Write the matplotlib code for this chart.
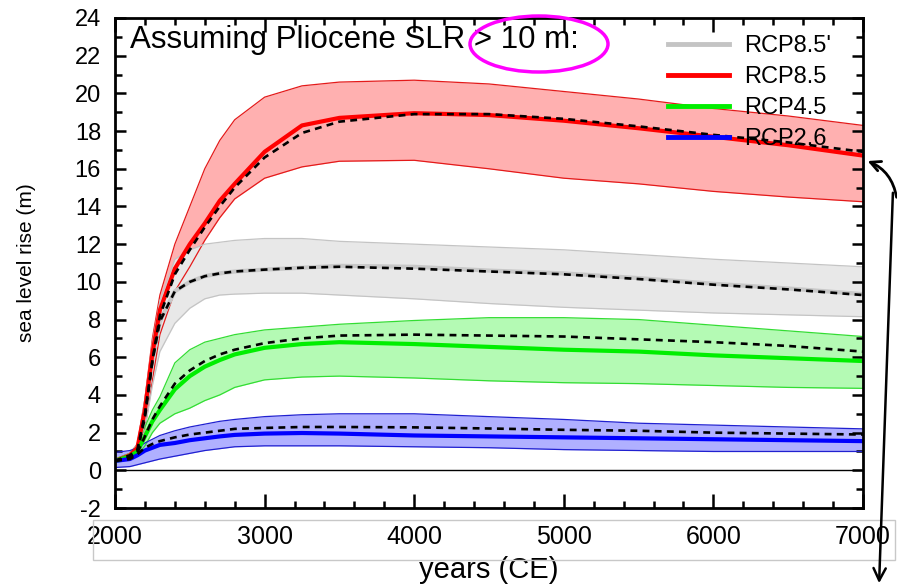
import numpy as np
import matplotlib
matplotlib.use('Agg')
import matplotlib.pyplot as plt
from matplotlib.lines import Line2D
from matplotlib.patches import Ellipse, Rectangle, FancyArrowPatch

plt.rcParams['font.family'] = ['Liberation Sans', 'DejaVu Sans']
plt.rcParams['axes.unicode_minus'] = False

years = [2000, 2100, 2150, 2200, 2250, 2300, 2400, 2500, 2600, 2700, 2800,
         3000, 3250, 3500, 4000, 4500, 5000, 5500, 6000, 6500, 7000]

# RCP8.5 (red)
r85_lo = [0.4, 0.7, 0.9, 2.2, 4.8, 7.2, 9.5, 10.8, 12.2, 13.4, 14.4,
          15.5, 16.1, 16.4, 16.45, 16.0, 15.5, 15.2, 14.8, 14.5, 14.25]
r85_hi = [0.6, 0.9, 1.4, 3.8, 7.0, 9.3, 12.0, 14.0, 16.0, 17.5, 18.6,
          19.8, 20.4, 20.6, 20.7, 20.5, 20.1, 19.7, 19.2, 18.8, 18.3]
r85_med = [0.5, 0.8, 1.2, 3.2, 6.2, 8.5, 10.7, 12.0, 13.1, 14.3, 15.2,
           16.9, 18.3, 18.7, 18.95, 18.85, 18.55, 18.15, 17.7, 17.25, 16.7]
r85_alt = [0.5, 0.7, 1.0, 2.8, 5.8, 8.2, 10.4, 11.7, 12.9, 14.0, 15.0,
           16.6, 17.9, 18.5, 18.9, 18.9, 18.65, 18.25, 17.8, 17.4, 16.9]

# RCP8.5' (grey)
r85p_lo = [0.4, 0.7, 0.9, 2.2, 4.5, 6.3, 7.8, 8.6, 9.1, 9.3, 9.35,
           9.4, 9.4, 9.3, 9.1, 8.85, 8.65, 8.5, 8.35, 8.25, 8.15]
r85p_hi = [0.6, 0.9, 1.4, 3.8, 6.8, 9.0, 11.2, 11.7, 12.0, 12.1, 12.2,
           12.3, 12.3, 12.15, 12.0, 11.85, 11.7, 11.45, 11.2, 11.0, 10.8]
r85p_med = [0.5, 0.8, 1.1, 3.0, 5.8, 7.9, 9.5, 10.0, 10.3, 10.45, 10.55,
            10.65, 10.75, 10.85, 10.8, 10.6, 10.45, 10.2, 9.9, 9.65, 9.35]
r85p_alt = [0.5, 0.8, 1.1, 3.0, 5.8, 7.9, 9.5, 10.0, 10.3, 10.45, 10.55,
            10.65, 10.75, 10.8, 10.7, 10.55, 10.4, 10.15, 9.85, 9.6, 9.3]

# RCP4.5 (green)
r45_lo = [0.4, 0.6, 0.8, 1.3, 2.0, 2.5, 3.0, 3.3, 3.7, 4.0, 4.4,
          4.8, 4.95, 5.0, 4.9, 4.75, 4.65, 4.6, 4.5, 4.4, 4.35]
r45_hi = [0.6, 0.9, 1.3, 2.3, 3.2, 3.9, 5.7, 6.4, 6.8, 7.0, 7.2,
          7.45, 7.6, 7.75, 7.95, 8.1, 8.1, 8.0, 7.7, 7.4, 7.1]
r45_med = [0.5, 0.75, 1.0, 1.8, 2.6, 3.2, 4.3, 5.0, 5.5, 5.85, 6.15,
           6.5, 6.7, 6.8, 6.7, 6.55, 6.4, 6.3, 6.1, 5.95, 5.8]
r45_alt = [0.5, 0.7, 0.95, 1.8, 2.7, 3.4, 4.6, 5.3, 5.8, 6.15, 6.4,
           6.75, 7.0, 7.15, 7.2, 7.15, 7.1, 6.95, 6.8, 6.6, 6.3]

# RCP2.6 (blue)
r26_lo = [0.15, 0.2, 0.3, 0.4, 0.5, 0.6, 0.75, 0.9, 1.05, 1.15, 1.25,
          1.3, 1.3, 1.3, 1.25, 1.2, 1.1, 1.05, 1.0, 1.0, 1.0]
r26_hi = [0.95, 1.05, 1.2, 1.45, 1.65, 1.85, 2.1, 2.3, 2.45, 2.6, 2.7,
          2.85, 2.95, 3.0, 3.0, 2.85, 2.7, 2.5, 2.4, 2.3, 2.2]
r26_med = [0.5, 0.6, 0.8, 1.05, 1.2, 1.35, 1.45, 1.6, 1.7, 1.8, 1.88,
           1.95, 1.98, 1.95, 1.85, 1.8, 1.75, 1.7, 1.65, 1.6, 1.55]
r26_alt = [0.5, 0.6, 0.85, 1.2, 1.4, 1.55, 1.75, 1.9, 2.0, 2.1, 2.2,
           2.25, 2.3, 2.3, 2.28, 2.22, 2.15, 2.1, 2.0, 1.95, 1.9]

labels = ["RCP8.5'", 'RCP8.5', 'RCP4.5', 'RCP2.6']

fig = plt.figure(figsize=(8.97, 5.88), dpi=100)
ax = fig.add_axes([0.1282, 0.136, 0.8339, 0.8334])

# bands: (lo, hi, fill, edge)
bands = [(r85_lo, r85_hi, '#ffb0b0', '#e41a1a'),
         (r85p_lo, r85p_hi, '#e8e8e8', '#c4c4c4'),
         (r45_lo, r45_hi, '#b4fab4', '#33dd33'),
         (r26_lo, r26_hi, '#b0b0ff', '#2020d0')]
for lo, hi, fc, ec in bands:
    ax.fill_between(years, lo, hi, color=fc, lw=0)
    ax.plot(years, lo, color=ec, lw=0.9)
    ax.plot(years, hi, color=ec, lw=0.9)

ax.plot(years, r85p_med, color='#c8c8c8', lw=3)
ax.plot(years, r85_med, color='#ff0000', lw=3)
ax.plot(years, r45_med, color='#00ee00', lw=3)
ax.plot(years, r26_med, color='#0000ff', lw=3)

for alt in (r85_alt, r85p_alt, r45_alt, r26_alt):
    ax.plot(years, alt, color='black', lw=1.9, dashes=(2.6, 2.0))

ax.axhline(0, color='black', lw=1)

ax.set_xlim(2000, 7000)
ax.set_ylim(-2, 24)
ax.set_xticks([2000, 3000, 4000, 5000, 6000, 7000])
ax.set_xticks(np.arange(2000, 7001, 200), minor=True)
ax.set_yticks(np.arange(-2, 25, 2))
ax.set_yticks(np.arange(-2, 25, 1), minor=True)
ax.tick_params(which='both', direction='in', top=True, right=True, width=1.8)
ax.tick_params(which='major', length=8)
ax.tick_params(which='minor', length=5)
ax.tick_params(axis='x', which='major', length=10)
ax.tick_params(axis='y', labelsize=17, pad=10)
ax.tick_params(axis='x', labelsize=18, pad=12)
for s in ax.spines.values():
    s.set_linewidth(2)

ax.set_ylabel('sea level rise (m)', fontsize=15, labelpad=28)
ax.set_xlabel('years (CE)', fontsize=21, labelpad=5)

ax.text(0.02, 0.955, 'Assuming Pliocene SLR > 10 m:', transform=ax.transAxes,
        fontsize=22.5, va='center', ha='left')

handles = [Line2D([], [], color=c, lw=3.5) for c in ('#c4c4c4', '#ff0000', '#00ee00', '#0000ff')]
ax.legend(handles, labels, loc='upper left', bbox_to_anchor=(0.739, 0.965),
          frameon=False, fontsize=17, handlelength=2.6, handletextpad=0.65,
          labelspacing=0.38, borderpad=0, borderaxespad=0)

# slide annotations drawn over the chart
fig.patches.append(Ellipse((539 / 897, 1 - 44 / 588), 138 / 897, 56 / 588,
                           transform=fig.transFigure, fill=False,
                           edgecolor='#ff00ff', lw=2.5))
fig.patches.append(Rectangle((93 / 897, 1 - 560 / 588), 802 / 897, 40 / 588,
                             transform=fig.transFigure, fill=False,
                             edgecolor='#c8c8c8', lw=1))
fig.patches.append(FancyArrowPatch((897 / 897, 1 - 200 / 588), (865 / 897, 1 - 160 / 588),
                                   transform=fig.transFigure, arrowstyle='->',
                                   mutation_scale=18, color='black', lw=2,
                                   connectionstyle='arc3,rad=0.3'))
fig.patches.append(FancyArrowPatch((893 / 897, 1 - 190 / 588), (879 / 897, 1 - 586 / 588),
                                   transform=fig.transFigure, arrowstyle='->',
                                   mutation_scale=22, color='black', lw=1.8))

fig.savefig('out.png', dpi=100)
